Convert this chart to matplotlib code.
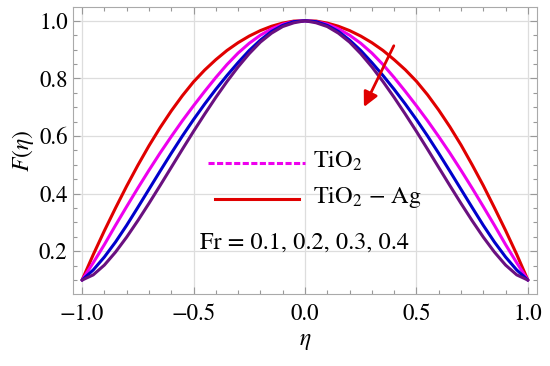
import numpy as np
import matplotlib
matplotlib.use("Agg")
import matplotlib.pyplot as plt
from matplotlib.ticker import MultipleLocator, FuncFormatter

plt.rcParams['font.family'] = ['STIXGeneral', 'DejaVu Serif']
plt.rcParams['mathtext.fontset'] = 'stix'

# eta grid, step 0.05 from -1 to 1
eta = [-1.00, -0.95, -0.90, -0.85, -0.80, -0.75, -0.70, -0.65, -0.60, -0.55, -0.50,
       -0.45, -0.40, -0.35, -0.30, -0.25, -0.20, -0.15, -0.10, -0.05, 0.00,
       0.05, 0.10, 0.15, 0.20, 0.25, 0.30, 0.35, 0.40, 0.45, 0.50,
       0.55, 0.60, 0.65, 0.70, 0.75, 0.80, 0.85, 0.90, 0.95, 1.00]

# F(eta), one curve per Fr
F_red = [0.100, 0.188, 0.271, 0.350, 0.426, 0.498, 0.566, 0.629, 0.687, 0.740, 0.788,
         0.829, 0.865, 0.897, 0.924, 0.947, 0.966, 0.981, 0.992, 0.999, 1.000,
         0.999, 0.992, 0.981, 0.966, 0.947, 0.924, 0.897, 0.865, 0.830, 0.790,
         0.743, 0.690, 0.632, 0.569, 0.500, 0.428, 0.351, 0.272, 0.189, 0.100]
F_magenta = [0.100, 0.160, 0.223, 0.290, 0.355, 0.419, 0.481, 0.541, 0.598, 0.653, 0.705,
             0.755, 0.803, 0.848, 0.888, 0.922, 0.950, 0.972, 0.988, 0.997, 1.000,
             0.997, 0.988, 0.972, 0.950, 0.922, 0.888, 0.848, 0.803, 0.755, 0.705,
             0.653, 0.598, 0.541, 0.481, 0.419, 0.355, 0.290, 0.223, 0.160, 0.100]
F_blue = [0.100, 0.135, 0.180, 0.232, 0.290, 0.352, 0.415, 0.478, 0.540, 0.600, 0.657,
          0.711, 0.762, 0.810, 0.855, 0.897, 0.933, 0.963, 0.984, 0.997, 1.000,
          0.997, 0.984, 0.963, 0.933, 0.897, 0.855, 0.810, 0.762, 0.711, 0.657,
          0.600, 0.540, 0.478, 0.415, 0.352, 0.290, 0.232, 0.180, 0.135, 0.100]
F_purple = [0.100, 0.118, 0.152, 0.197, 0.249, 0.306, 0.366, 0.428, 0.491, 0.554, 0.616,
            0.676, 0.734, 0.789, 0.840, 0.886, 0.926, 0.957, 0.980, 0.993, 1.000,
            0.993, 0.980, 0.957, 0.926, 0.886, 0.840, 0.789, 0.734, 0.676, 0.616,
            0.554, 0.491, 0.428, 0.366, 0.306, 0.249, 0.197, 0.152, 0.118, 0.100]

curves = [F_red, F_magenta, F_blue, F_purple]
colors = ['#e00000', '#ee00ee', '#0000cc', '#6a1080']

fig = plt.figure(figsize=(5.5, 3.66), dpi=100)
ax = fig.add_axes([0.133, 0.197, 0.843, 0.784])

for F, c in zip(curves, colors):
    ax.plot(eta, F, color=c, lw=2.2, solid_capstyle='round', solid_joinstyle='round')

ax.set_xlim(-1.04, 1.04)
ax.set_ylim(0.052, 1.048)
ax.xaxis.set_minor_locator(MultipleLocator(0.1))
ax.yaxis.set_minor_locator(MultipleLocator(0.05))
ax.set_xticks([-1.0, -0.5, 0.0, 0.5, 1.0])
ax.set_yticks([0.2, 0.4, 0.6, 0.8, 1.0])
fmt = FuncFormatter(lambda v, p: ('%.1f' % v).replace('-', '\u2212'))
ax.xaxis.set_major_formatter(fmt)
ax.yaxis.set_major_formatter(fmt)
ax.tick_params(which='both', direction='in', top=True, right=True, color='#999999',
               labelsize=16.5, width=0.8)
ax.tick_params(which='major', length=5)
ax.tick_params(which='minor', length=3)
ax.tick_params(axis='x', which='major', pad=7)
ax.tick_params(axis='y', which='major', pad=4)
ax.grid(True, which='major', color='#dddddd', lw=0.9)
ax.set_axisbelow(True)
for s in ax.spines.values():
    s.set_color('#aaaaaa')
    s.set_linewidth(0.8)

ax.set_xlabel(r'$\eta$', fontsize=17, labelpad=4)
ax.set_ylabel(r'$F(\eta)$', fontsize=17, labelpad=2)

# legend drawn by hand
ax.plot([-0.435, 0.0], [0.506, 0.506], color='#ee00ee', lw=2.2, ls=(0, (2.0, 0.8)))
ax.plot([-0.404, -0.027], [0.381, 0.381], color='#e00000', lw=2.2)
ax.text(0.036, 0.512, r'TiO$_2$', fontsize=17.5, va='center', ha='left')
ax.text(0.036, 0.386, r'TiO$_2$ $-$ Ag', fontsize=17.5, va='center', ha='left')
ax.text(-0.471, 0.228, 'Fr = 0.1, 0.2, 0.3, 0.4', fontsize=17.5, va='center', ha='left')

ax.annotate('', xy=(0.259, 0.692), xytext=(0.404, 0.922),
            arrowprops=dict(arrowstyle='-|>', color='#e00000', lw=2, mutation_scale=22))

fig.savefig('out.png', dpi=100)
